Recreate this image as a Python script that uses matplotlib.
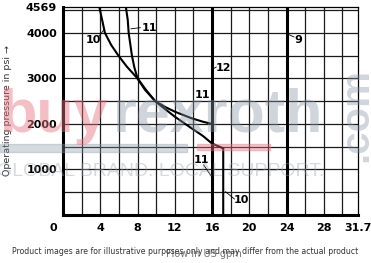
import numpy as np
import matplotlib.pyplot as plt
from matplotlib import transforms
from matplotlib.patches import Rectangle

# characteristic curves (flow in gpm, pressure in psi)
curve10_x = [3.9, 4.2, 4.5, 5.17, 5.95, 6.85, 8.0, 8.9, 9.9, 11.0, 12.0, 13.8, 15.0, 16.0, 17.2, 17.2]
curve10_y = [4569, 4286, 4000, 3736, 3500, 3260, 3000, 2750, 2500, 2320, 2160, 1905, 1740, 1570, 1465, 0]
curve11_x = [6.75, 6.95, 7.05, 7.4, 7.65, 8.0, 8.8, 9.9, 11.0, 12.0, 13.8, 15.0, 16.0, 16.0]
curve11_y = [4569, 4286, 4000, 3500, 3250, 3000, 2750, 2500, 2370, 2270, 2125, 2050, 2000, 0]
line12_x = 16
line9_x = 24

x_ticks = [0, 4, 8, 12, 16, 20, 24, 28, 31.7]
x_ticklabels = ["0", "4", "8", "12", "16", "20", "24", "28", "31.7"]
y_ticks = [1000, 2000, 3000, 4000, 4569]
y_ticklabels = ["1000", "2000", "3000", "4000", "4569"]

# curve labels: text, label position, leader start, leader end
labels = [
    ("10", (3.23, 3840), (3.85, 3920), (4.35, 4060)),
    ("11", (9.25, 4110), (8.3, 4115), (7.3, 4090)),
    ("12", (17.27, 3224), (16.45, 3250), (16.1, 3210)),
    ("9", (25.3, 3835), (24.8, 3910), (24.07, 3980)),
    ("11", (15.0, 2637), None, None),
    ("11", (14.83, 1215), (15.1, 1100), (15.9, 857)),
    ("10", (19.16, 323), (18.4, 352), (17.44, 512)),
]


def main():
    fig = plt.figure(figsize=(3.71, 2.63), dpi=100)
    ax = fig.add_axes([63 / 371, 48 / 263, 295.3 / 371, 208 / 263])

    ax.set_xlim(0, 31.7)
    ax.set_ylim(0, 4569)

    # grid
    for gx in np.arange(2, 31, 2):
        ax.axvline(gx, color="#1a1a1a", lw=0.9, zorder=1)
    for gy in np.arange(500, 4569, 500):
        ax.axhline(gy, color="#1a1a1a", lw=0.9, zorder=1)

    ax.axvline(line12_x, color="black", lw=2.2, zorder=3)
    ax.axvline(line9_x, color="black", lw=2.2, zorder=3)
    ax.plot(curve10_x, curve10_y, color="black", lw=1.5, zorder=4)
    ax.plot(curve11_x, curve11_y, color="black", lw=1.5, zorder=4)

    for txt, pos, p0, p1 in labels:
        ax.text(pos[0], pos[1], txt, fontsize=8, fontweight="bold",
                ha="center", va="center", zorder=5)
        if p0 is not None:
            ax.plot([p0[0], p1[0]], [p0[1], p1[1]], color="black", lw=0.6, zorder=5)

    for side in ["left", "bottom"]:
        ax.spines[side].set_linewidth(2.2)
    for side in ["top", "right"]:
        ax.spines[side].set_linewidth(0.9)

    ax.set_xticks(x_ticks)
    ax.set_xticklabels(x_ticklabels, fontsize=8, fontweight="bold")
    ax.set_yticks(y_ticks)
    ax.set_yticklabels(y_ticklabels, fontsize=8, fontweight="bold")
    ax.tick_params(length=0)
    ax.tick_params(axis="x", pad=5.5)
    ax.tick_params(axis="y", pad=4.3)
    # the "0" sits left of the corner
    lab0 = ax.get_xticklabels()[0]
    lab0.set_transform(lab0.get_transform() + transforms.ScaledTranslation(-10 / 100, 0, fig.dpi_scale_trans))

    fig.text(8 / 371, 1 - 111 / 263, "Operating pressure in psi \u2192", rotation=90,
             fontsize=6.8, color="#333333", ha="center", va="center")

    # watermark
    fig.patches.append(Rectangle((0, 1 - 152 / 263), 187 / 371, 8 / 263, transform=fig.transFigure,
                                 color="#8a98a8", alpha=0.35, zorder=10))
    fig.patches.append(Rectangle((197 / 371, 1 - 150 / 263), 73 / 371, 6 / 263, transform=fig.transFigure,
                                 color="#e8707f", alpha=0.4, zorder=10))
    fig.text(0 / 371, 1 - 132 / 263, "buy", fontsize=44, fontweight="bold", family="Liberation Sans",
             color="#e8707f", alpha=0.45, ha="left", va="baseline", zorder=10)
    fig.text(113 / 371, 1 - 132 / 263, "rexroth", fontsize=44, fontweight="bold", family="Liberation Sans",
             color="#8a98a8", alpha=0.4, ha="left", va="baseline", zorder=10)
    fig.text(-3 / 371, 1 - 171.5 / 263, "GLOBAL BRAND. LOCAL SUPPORT.", fontsize=14, family="Liberation Sans",
             color="#9aa4ae", alpha=0.4, ha="left", va="center", zorder=10)
    fig.text(356 / 371, 1 - 115 / 263, ".com", fontsize=29, fontweight="bold", family="Liberation Sans",
             rotation=90, color="#8a98a8", alpha=0.4, ha="center", va="center", zorder=10)

    fig.text(204 / 371, 1 - 254 / 263, "Flow in US gpm", fontsize=7, color="#777777",
             ha="center", va="center")
    fig.text(185 / 371, 1 - 252 / 263,
             "Product images are for illustrative purposes only and may differ from the actual product",
             fontsize=5.6, color="#333333", ha="center", va="center")

    fig.savefig("out.png", dpi=100)


if __name__ == "__main__":
    main()
